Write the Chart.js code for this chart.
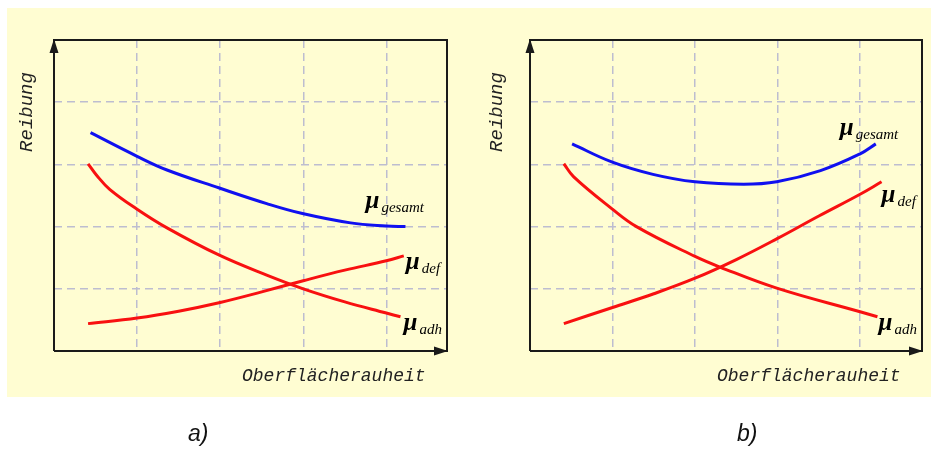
<!DOCTYPE html>
<html><head><meta charset="utf-8">
<script src="https://cdn.jsdelivr.net/npm/chart.js@4"></script>
<style>
html,body{margin:0;padding:0;background:#fff;width:931px;height:449px;overflow:hidden}
canvas{position:absolute;top:0}
</style></head><body>
<canvas id="ca" width="470" height="449" style="left:0"></canvas>
<canvas id="cb" width="461" height="449" style="left:470px"></canvas>
<script>
// Panel a) data
const gesamtA_x = [0.44, 1.0, 1.36, 1.99, 2.56, 2.99, 3.57, 4.0, 4.23];
const gesamtA_y = [3.51, 3.13, 2.91, 2.62, 2.37, 2.21, 2.06, 2.01, 2.0];
const adhA_x = [0.41, 0.51, 0.67, 1.0, 1.36, 1.99, 2.56, 3.0, 3.5, 4.0, 4.17];
const adhA_y = [3.01, 2.83, 2.6, 2.28, 1.98, 1.54, 1.22, 1.0, 0.79, 0.61, 0.55];
const defA_x = [0.41, 1.0, 1.5, 2.0, 2.5, 3.0, 3.5, 4.0, 4.21];
const defA_y = [0.44, 0.53, 0.64, 0.78, 0.95, 1.13, 1.3, 1.45, 1.53];
// Panel b) data
const gesamtB_x = [0.51, 0.99, 1.49, 2.0, 2.59, 2.99, 3.52, 4.0, 4.19];
const gesamtB_y = [3.33, 3.04, 2.84, 2.72, 2.68, 2.72, 2.9, 3.17, 3.33];
const adhB_x = [0.41, 0.53, 0.99, 1.29, 2.0, 2.3, 2.99, 4.0, 4.21];
const adhB_y = [3.01, 2.8, 2.29, 2.0, 1.52, 1.35, 1.01, 0.63, 0.55];
const defB_x = [0.41, 1.0, 1.5, 2.0, 2.5, 3.0, 3.5, 4.0, 4.26];
const defB_y = [0.44, 0.70, 0.92, 1.17, 1.47, 1.81, 2.17, 2.52, 2.72];
// Text
const yTitle = 'Reibung';
const xTitle = 'Oberflächerauheit';
const subs = ['gesamt', 'def', 'adh'];
const panelLabels = ['a)', 'b)'];

const pts = (xs, ys) => xs.map((x, i) => ({x, y: ys[i]}));

const deco = {
  id: 'deco',
  beforeDraw(chart, args, o) {
    const ctx = chart.ctx;
    ctx.save();
    ctx.fillStyle = '#FFFDD2';
    ctx.fillRect(o.bgLeft, 8, chart.width - o.bgLeft, 389);
    ctx.restore();
  },
  afterDraw(chart, args, o) {
    const {ctx, chartArea: a} = chart;
    ctx.save();
    ctx.strokeStyle = '#1a1a1a';
    ctx.lineWidth = 2;
    ctx.beginPath();
    ctx.moveTo(a.left, a.bottom); ctx.lineTo(a.left, a.top);
    ctx.lineTo(a.right, a.top); ctx.lineTo(a.right, a.bottom); ctx.lineTo(a.left, a.bottom);
    ctx.stroke();
    ctx.fillStyle = '#1a1a1a';
    ctx.beginPath();
    ctx.moveTo(a.left, a.top - 1); ctx.lineTo(a.left - 4.5, a.top + 13); ctx.lineTo(a.left + 4.5, a.top + 13); ctx.closePath();
    ctx.fill();
    ctx.beginPath();
    ctx.moveTo(a.right + 1, a.bottom); ctx.lineTo(a.right - 13, a.bottom - 4.5); ctx.lineTo(a.right - 13, a.bottom + 4.5); ctx.closePath();
    ctx.fill();
    // axis titles
    ctx.fillStyle = '#222';
    ctx.font = 'italic 18px "Liberation Mono"';
    ctx.textBaseline = 'alphabetic';
    ctx.textAlign = 'left';
    ctx.fillText(xTitle, o.xTitleX, 381);
    ctx.save();
    ctx.translate(o.yTitleX, 112);
    ctx.rotate(-Math.PI / 2);
    ctx.textAlign = 'center';
    ctx.font = 'italic 19px "Liberation Mono"';
    ctx.fillText(yTitle, 0, 0);
    ctx.restore();
    // curve labels
    ctx.fillStyle = '#000';
    o.labels.forEach((l, i) => {
      const meta = chart.getDatasetMeta(i);
      const p = meta.data[meta.data.length - 1];
      const x = p.x + l[0], y = p.y + l[1];
      ctx.textAlign = 'left';
      ctx.font = 'italic bold 25px "Liberation Serif"';
      ctx.fillText('μ', x, y);
      ctx.font = 'italic 15px "Liberation Serif"';
      ctx.fillText(subs[i], x + 16, y + 4);
    });
    // panel label
    ctx.font = 'italic 23px "Liberation Sans"';
    ctx.fillStyle = '#111';
    ctx.fillText(o.panel, o.panelX, 441);
    ctx.restore();
  }
};

function makeChart(id, sets, opt) {
  return new Chart(document.getElementById(id), {
    type: 'line',
    data: {
      datasets: [
        {data: pts(sets[0][0], sets[0][1]), borderColor: '#1010F0'},
        {data: pts(sets[1][0], sets[1][1]), borderColor: '#F81010'},
        {data: pts(sets[2][0], sets[2][1]), borderColor: '#F81010'}
      ].map(d => Object.assign(d, {borderWidth: 3, pointRadius: 0, fill: false, tension: 0.4}))
    },
    options: {
      responsive: false,
      animation: false,
      events: [],
      layout: {padding: opt.padding},
      plugins: {legend: {display: false}, tooltip: {enabled: false}, deco: opt.deco},
      scales: {
        x: {type: 'linear', min: 0, max: opt.xmax, ticks: {display: false, stepSize: 1},
            grid: {color: '#BDBDD0', lineWidth: 1.5, drawTicks: false}, border: {display: false, dash: [8, 5]},
            afterFit(s) { s.height = 0; }},
        y: {type: 'linear', min: 0, max: 5, ticks: {display: false, stepSize: 1},
            grid: {color: '#BDBDD0', lineWidth: 1.5, drawTicks: false}, border: {display: false, dash: [8, 5]},
            afterFit(s) { s.width = 0; }}
      }
    },
    plugins: [deco]
  });
}

makeChart('ca', [[gesamtA_x, gesamtA_y], [defA_x, defA_y], [adhA_x, adhA_y]], {
  padding: {left: 54, right: 23, top: 40, bottom: 98},
  xmax: 4.73,
  deco: {bgLeft: 7, xTitleX: 242, yTitleX: 32, panel: panelLabels[0], panelX: 188,
         labels: [[-40, -19], [2, 13], [3, 13]]}
});
makeChart('cb', [[gesamtB_x, gesamtB_y], [defB_x, defB_y], [adhB_x, adhB_y]], {
  padding: {left: 60, right: 9, top: 40, bottom: 98},
  xmax: 4.75,
  deco: {bgLeft: 0, xTitleX: 247, yTitleX: 32, panel: panelLabels[1], panelX: 267,
         labels: [[-36, -9], [0, 20], [1, 13]]}
});
</script>
</body></html>
